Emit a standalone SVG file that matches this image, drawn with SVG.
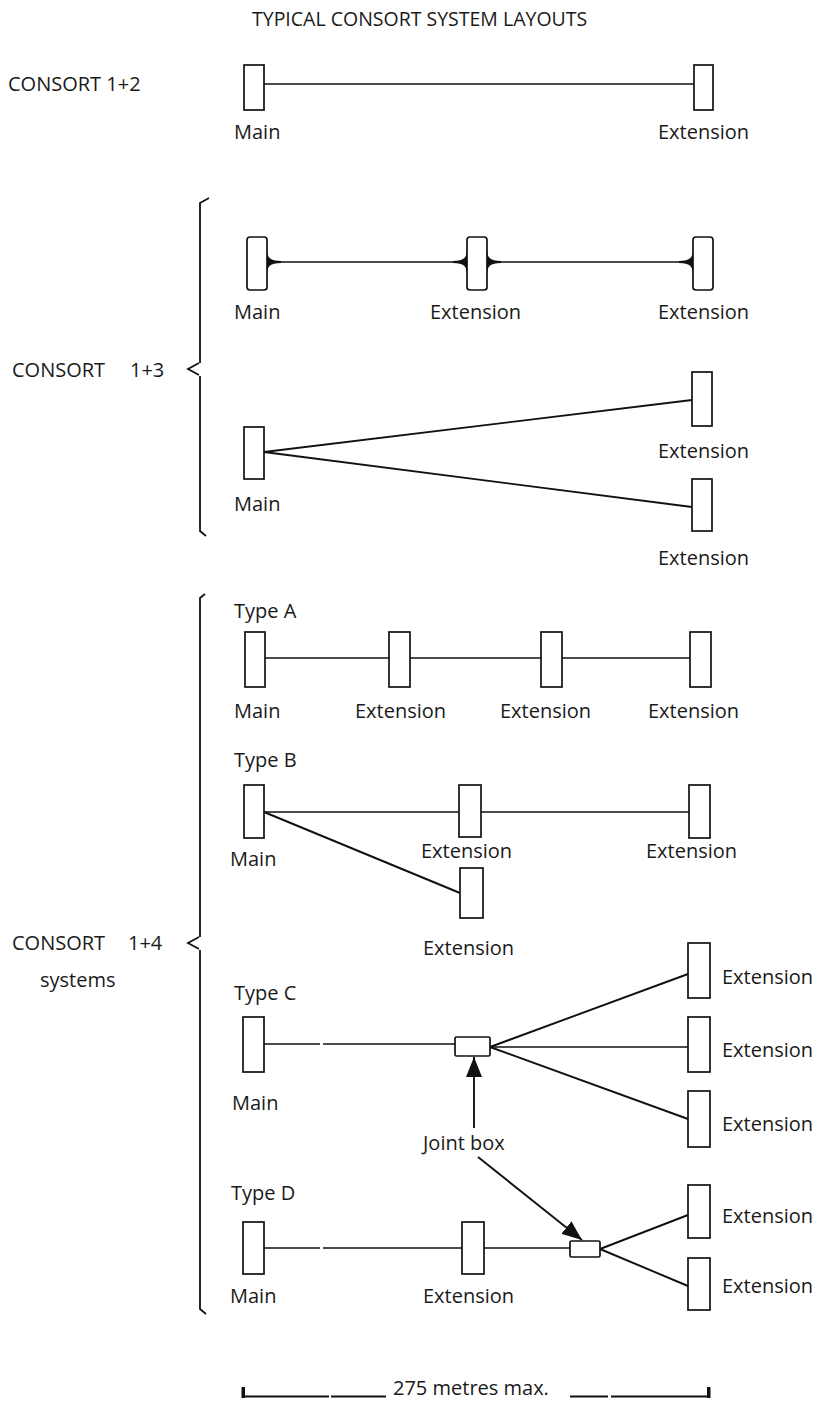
<svg xmlns="http://www.w3.org/2000/svg" xmlns:xlink="http://www.w3.org/1999/xlink" width="817" height="1404" viewBox="0 0 817 1404">
<style>
  text { font-family: "Open Sans", "Liberation Sans", sans-serif; font-size: 20px; fill: #1a1a1a; }
  .title { font-size: 19.5px; }
  .box { fill: #fff; stroke: #111; stroke-width: 1.7; }
  .ln { stroke: #111; stroke-width: 1.7; fill: none; }
  .fan { stroke: #111; stroke-width: 1.9; fill: none; }
  .br { stroke: #111; stroke-width: 1.8; fill: none; }
  .flare { fill: #111; }
</style>
<defs>
  <path id="flare" d="M0,-12 C0.6,-4 3,-1.3 14,-1 L14,1 C3,1.3 0.6,4 0,12 Z"/>
  <marker id="arr" viewBox="0 0 20 16" refX="20" refY="8" markerWidth="20" markerHeight="16" markerUnits="userSpaceOnUse" orient="auto">
    <path d="M0,0 L20,8 L0,16 Z" fill="#111"/>
  </marker>
</defs>
<rect width="817" height="1404" fill="#fff"/>

<text class="title" x="252" y="26">TYPICAL CONSORT SYSTEM LAYOUTS</text>

<!-- section labels and brackets -->
<g id="section-labels">
  <text x="8" y="91">CONSORT 1+2</text>
  <text x="12" y="377">CONSORT</text>
  <text x="130" y="377">1+3</text>
  <text x="12" y="950">CONSORT</text>
  <text x="128" y="950">1+4</text>
  <text x="40" y="987">systems</text>
  <text x="234" y="618">Type A</text>
  <text x="234" y="767">Type B</text>
  <text x="234" y="1000">Type C</text>
  <text x="231" y="1200">Type D</text>
</g>
<g id="brackets">
  <path class="br" d="M209,198 L200,203 L200,363 M199,363 L188,369 L199,375 M200,376 L200,531 L206,536"/>
  <path class="br" d="M205,594 L200,598 L200,937 M199,937 L188,943 L199,949 M200,950 L200,1309 L206,1314"/>
</g>

<!-- connectors -->
<g id="connectors">
  <!-- 1+2 -->
  <line class="ln" x1="264" y1="84" x2="694" y2="84"/>
  <!-- 1+3 row 1 -->
  <line class="ln" x1="267" y1="262" x2="467" y2="262"/>
  <line class="ln" x1="487" y1="262" x2="693" y2="262"/>
  <use xlink:href="#flare" class="flare" transform="translate(267,262)"/>
  <use xlink:href="#flare" class="flare" transform="translate(467,262) scale(-1,1)"/>
  <use xlink:href="#flare" class="flare" transform="translate(487,262)"/>
  <use xlink:href="#flare" class="flare" transform="translate(693,262) scale(-1,1)"/>
  <!-- 1+3 row 2 -->
  <line class="fan" x1="264" y1="452" x2="692" y2="400"/>
  <line class="fan" x1="264" y1="452" x2="692" y2="507"/>
  <!-- Type A -->
  <line class="ln" x1="265" y1="658" x2="389" y2="658"/>
  <line class="ln" x1="410" y1="658" x2="541" y2="658"/>
  <line class="ln" x1="562" y1="658" x2="690" y2="658"/>
  <!-- Type B -->
  <line class="ln" x1="264" y1="812" x2="459" y2="812"/>
  <line class="ln" x1="481" y1="812" x2="689" y2="812"/>
  <line class="fan" x1="264" y1="812" x2="460" y2="893"/>
  <!-- Type C -->
  <line class="ln" x1="264" y1="1044" x2="320" y2="1044"/>
  <line class="ln" x1="323" y1="1044" x2="455" y2="1044"/>
  <line class="fan" x1="490" y1="1047" x2="688" y2="974"/>
  <line class="ln" x1="490" y1="1047" x2="688" y2="1047"/>
  <line class="fan" x1="490" y1="1047" x2="688" y2="1119"/>
  <!-- Type D -->
  <line class="ln" x1="264" y1="1248" x2="320" y2="1248"/>
  <line class="ln" x1="323" y1="1248" x2="462" y2="1248"/>
  <line class="ln" x1="484" y1="1248" x2="570" y2="1248"/>
  <line class="fan" x1="600" y1="1249" x2="688" y2="1215"/>
  <line class="fan" x1="600" y1="1249" x2="688" y2="1286"/>
  <!-- joint box pointers -->
  <line class="fan" x1="474" y1="1128" x2="474" y2="1057" marker-end="url(#arr)"/>
  <line class="fan" x1="478" y1="1157" x2="582" y2="1240" marker-end="url(#arr)"/>
</g>

<!-- CONSORT 1+2 -->
<g id="s1-main"><rect class="box" x="244" y="65" width="20" height="45"/><text x="234" y="139">Main</text></g>
<g id="s1-ext"><rect class="box" x="694" y="65" width="19" height="45"/><text x="658" y="139">Extension</text></g>

<!-- CONSORT 1+3 row 1 -->
<g id="s2a-main"><rect class="box" x="247" y="237" width="20" height="53" rx="3"/><text x="234" y="319">Main</text></g>
<g id="s2a-ext1"><rect class="box" x="467" y="237" width="20" height="53" rx="3"/><text x="430" y="319">Extension</text></g>
<g id="s2a-ext2"><rect class="box" x="693" y="237" width="20" height="53" rx="3"/><text x="658" y="319">Extension</text></g>

<!-- CONSORT 1+3 row 2 -->
<g id="s2b-main"><rect class="box" x="244" y="427" width="20" height="52"/><text x="234" y="511">Main</text></g>
<g id="s2b-ext1"><rect class="box" x="692" y="372" width="20" height="54"/><text x="658" y="458">Extension</text></g>
<g id="s2b-ext2"><rect class="box" x="692" y="479" width="20" height="52"/><text x="658" y="565">Extension</text></g>

<!-- Type A -->
<g id="ta-main"><rect class="box" x="245" y="632" width="20" height="55"/><text x="234" y="718">Main</text></g>
<g id="ta-ext1"><rect class="box" x="389" y="632" width="21" height="55"/><text x="355" y="718">Extension</text></g>
<g id="ta-ext2"><rect class="box" x="541" y="632" width="21" height="55"/><text x="500" y="718">Extension</text></g>
<g id="ta-ext3"><rect class="box" x="690" y="632" width="21" height="55"/><text x="648" y="718">Extension</text></g>

<!-- Type B -->
<g id="tb-main"><rect class="box" x="244" y="785" width="20" height="53"/><text x="230" y="866">Main</text></g>
<g id="tb-ext1"><rect class="box" x="459" y="785" width="22" height="52"/><text x="421" y="858">Extension</text></g>
<g id="tb-ext2"><rect class="box" x="689" y="785" width="21" height="53"/><text x="646" y="858">Extension</text></g>
<g id="tb-ext3"><rect class="box" x="460" y="868" width="23" height="50"/><text x="423" y="955">Extension</text></g>

<!-- Type C -->
<g id="tc-main"><rect class="box" x="243" y="1017" width="21" height="55"/><text x="232" y="1110">Main</text></g>
<g id="tc-joint"><rect class="box" x="455" y="1037" width="35" height="19" rx="1.5"/><text x="423" y="1150">Joint box</text></g>
<g id="tc-ext1"><rect class="box" x="688" y="943" width="22" height="55"/><text x="722" y="984">Extension</text></g>
<g id="tc-ext2"><rect class="box" x="688" y="1017" width="22" height="55"/><text x="722" y="1057">Extension</text></g>
<g id="tc-ext3"><rect class="box" x="688" y="1091" width="22" height="56"/><text x="722" y="1131">Extension</text></g>

<!-- Type D -->
<g id="td-main"><rect class="box" x="243" y="1222" width="21" height="52"/><text x="230" y="1303">Main</text></g>
<g id="td-ext1"><rect class="box" x="462" y="1222" width="22" height="52"/><text x="423" y="1303">Extension</text></g>
<g id="td-joint"><rect class="box" x="570" y="1241" width="30" height="16" rx="1.5"/></g>
<g id="td-ext2"><rect class="box" x="688" y="1185" width="22" height="53"/><text x="722" y="1223">Extension</text></g>
<g id="td-ext3"><rect class="box" x="688" y="1258" width="22" height="52"/><text x="722" y="1293">Extension</text></g>

<!-- scale bar -->
<g id="scale-bar">
  <rect x="241.5" y="1387" width="3.5" height="11" fill="#111"/>
  <rect x="707" y="1387" width="3.5" height="11" fill="#111"/>
  <line x1="243" y1="1396.5" x2="329" y2="1396.5" stroke="#111" stroke-width="2.2"/>
  <line x1="331" y1="1396.5" x2="386" y2="1396.5" stroke="#111" stroke-width="2.2"/>
  <line x1="570" y1="1396.5" x2="608" y2="1396.5" stroke="#111" stroke-width="2.2"/>
  <line x1="611" y1="1396.5" x2="709" y2="1396.5" stroke="#111" stroke-width="2.2"/>
  <text x="393" y="1395">275 metres max.</text>
</g>
</svg>
